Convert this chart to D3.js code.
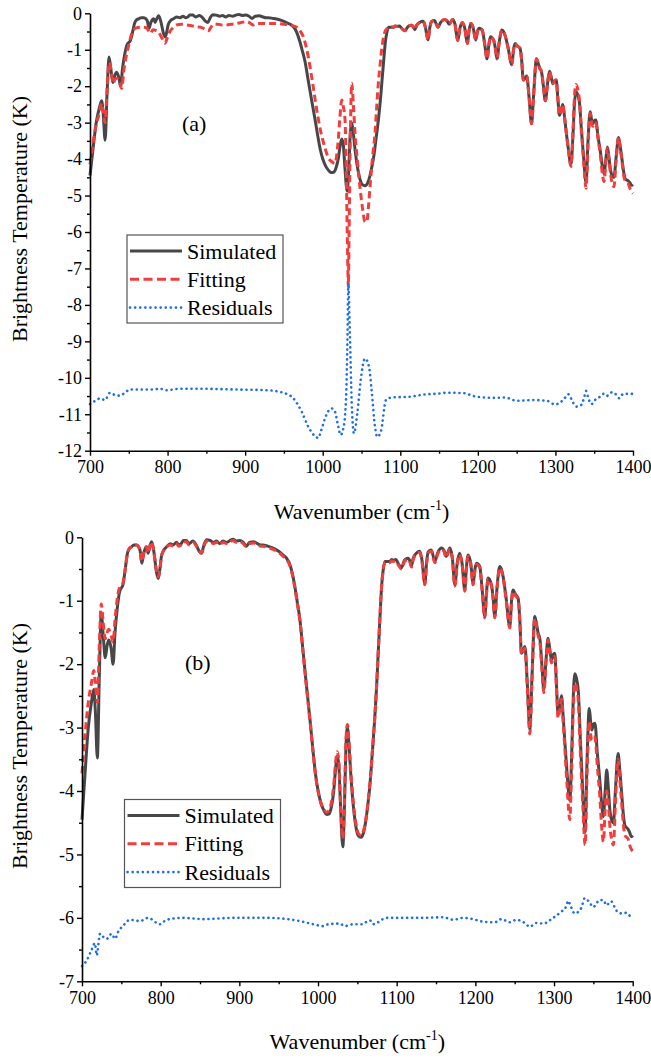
<!DOCTYPE html>
<html>
<head>
<meta charset="utf-8">
<script src="https://cdn.jsdelivr.net/npm/d3@7"></script>
<style>
  html, body { margin: 0; padding: 0; background: #fff; }
  svg { display: block; }
</style>
</head>
<body>
<div id="chart"></div>
<script>
// ---- data ----
const xTicks = [700, 800, 900, 1000, 1100, 1200, 1300, 1400]
const yTicksA = [0, -1, -2, -3, -4, -5, -6, -7, -8, -9, -10, -11, -12]
const yTicksB = [0, -1, -2, -3, -4, -5, -6, -7]
const legendLabels = ['Simulated', 'Fitting', 'Residuals']

// simulated spectrum (same in both panels)
const simulated = [
  [700,-4.45],[704,-3.7],[708,-3.0],[712,-2.6],[715,-2.4],[717,-2.75],[719.5,-3.48],[722,-2.2],
  [724.5,-1.2],[727,-1.55],[729.5,-1.9],[732,-1.7],[734,-1.62],[737,-1.75],[739.5,-2.0],[742,-1.5],
  [745,-1.1],[748,-0.85],[752,-0.75],[755,-0.5],[757.5,-0.27],[760,-0.18],[763,-0.15],[766,-0.12],
  [769.5,-0.12],[772,-0.15],[774,-0.22],[776,-0.41],[778.5,-0.25],[782,-0.15],[784,-0.25],[786,-0.15],
  [788.5,-0.07],[791,-0.2],[795,-0.57],[797,-0.65],[799,-0.5],[801,-0.3],[804,-0.2],[807.6,-0.15],
  [812,-0.1],[816,-0.12],[820,-0.08],[823,-0.12],[826,-0.1],[829,-0.05],[832.6,-0.05],[836,-0.1],
  [841,-0.06],[845,-0.12],[849,-0.22],[852,-0.25],[855,-0.12],[858.4,-0.04],[863,-0.05],[867,-0.08],
  [871,-0.06],[875,-0.1],[879,-0.06],[884,-0.08],[888,-0.05],[892,-0.03],[896,-0.06],[900.7,-0.05],
  [905,-0.08],[909,-0.14],[913,-0.08],[918,-0.07],[923,-0.1],[927,-0.12],[930,-0.12],[936,-0.14],
  [943,-0.17],[950,-0.22],[955.8,-0.28],[960,-0.33],[964,-0.42],[967,-0.55],[970.6,-0.78],[974,-1.05],
  [977,-1.3],[981,-1.8],[985.5,-2.36],[990,-2.9],[994,-3.41],[997,-3.75],[1000,-3.99],[1004,-4.2],
  [1008,-4.32],[1011,-4.37],[1014,-4.36],[1017,-4.25],[1020,-4.0],[1022,-3.7],[1024.5,-3.45],[1026.5,-3.6],
  [1028.5,-4.2],[1031.5,-4.88],[1033.5,-4.3],[1035.5,-3.3],[1037.4,-3.0],[1039.5,-3.3],[1042,-3.8],[1045,-4.25],
  [1048,-4.55],[1051,-4.7],[1054.5,-4.73],[1058,-4.65],[1061,-4.45],[1063.5,-4.2],[1066,-3.9],[1069,-3.4],
  [1072,-2.88],[1074.5,-2.35],[1076.5,-1.83],[1079,-1.2],[1080.8,-0.78],[1083,-0.5],[1085,-0.38],[1088,-0.38],
  [1091.3,-0.38],[1093.5,-0.35],[1095.5,-0.36],[1099,-0.35],[1101.8,-0.41],[1106,-0.48],[1110,-0.36],[1114.6,-0.33],
  [1117,-0.38],[1118.8,-0.45],[1121,-0.33],[1125,-0.25],[1129.4,-0.22],[1132,-0.35],[1135.8,-0.73],[1138,-0.4],
  [1140,-0.23],[1144,-0.2],[1148.5,-0.38],[1152,-0.25],[1157,-0.17],[1160,-0.2],[1163,-0.3],[1167.5,-0.17],
  [1170.5,-0.3],[1174,-0.75],[1177,-0.4],[1180,-0.25],[1183,-0.4],[1186.6,-0.83],[1188.5,-0.5],[1190.8,-0.28],
  [1194,-0.4],[1197.2,-0.73],[1199.5,-0.5],[1201.5,-0.41],[1205.6,-0.46],[1208.5,-0.8],[1212,-1.25],[1214,-0.9],
  [1216.2,-0.64],[1220.5,-0.75],[1222.5,-0.95],[1224.7,-1.25],[1227.5,-0.8],[1231,-0.46],[1233,-0.5],[1235.3,-0.62],
  [1239,-0.95],[1243.8,-1.41],[1246,-1.0],[1248,-0.83],[1251,-0.9],[1254.4,-0.96],[1256.5,-1.3],[1258.6,-1.83],
  [1261,-1.78],[1263,-1.72],[1266,-2.3],[1269.2,-3.03],[1272,-2.2],[1275.5,-1.25],[1277.5,-1.35],[1279.8,-1.51],
  [1282,-1.6],[1284.5,-2.0],[1287,-2.4],[1290,-1.9],[1292.4,-1.59],[1294.5,-1.75],[1296.7,-1.93],[1299,-1.85],
  [1301,-1.83],[1303,-2.3],[1305.2,-2.8],[1307.5,-2.65],[1309.5,-2.5],[1311.5,-2.8],[1313.6,-3.2],[1316.5,-3.7],
  [1320,-4.15],[1322.5,-3.4],[1324.5,-2.5],[1326.5,-2.15],[1329,-2.25],[1331,-2.45],[1333.5,-3.2],[1336.5,-4.0],
  [1339.5,-4.65],[1342,-3.5],[1344.8,-2.7],[1346.5,-2.9],[1348,-3.04],[1350,-2.95],[1352,-2.93],[1355,-3.4],
  [1358,-3.8],[1360.5,-4.2],[1362.7,-4.4],[1365,-4.0],[1367,-3.67],[1369,-3.95],[1371,-4.3],[1373,-4.45],
  [1375.5,-4.5],[1378,-4.0],[1381.4,-3.41],[1383.5,-3.65],[1385.7,-3.99],[1388,-4.35],[1390,-4.54],[1394,-4.6],
  [1396,-4.65],[1398.4,-4.72],[1400,-4.7]
]

// fitting, panel (a)
const fittingA = [
  [700,-4.15],[704,-3.55],[708,-3.05],[712,-2.75],[715,-2.47],[717,-2.7],[719.5,-3.0],[722,-2.1],
  [725,-1.35],[727.5,-1.6],[730,-1.92],[732.5,-1.8],[735,-1.78],[738,-1.9],[740.8,-2.06],[744,-1.5],
  [749.4,-0.92],[752.5,-0.65],[755.8,-0.46],[760,-0.4],[765,-0.38],[770,-0.38],[773,-0.4],[778,-0.55],
  [781,-0.45],[784,-0.46],[788,-0.5],[792,-0.65],[796.7,-0.82],[800,-0.65],[803,-0.5],[807,-0.4],
  [811.7,-0.32],[818,-0.3],[824.6,-0.32],[831,-0.34],[837.5,-0.37],[842,-0.38],[846,-0.41],[849,-0.45],
  [852.5,-0.48],[856,-0.38],[859,-0.3],[865,-0.3],[870,-0.32],[876,-0.32],[882,-0.3],[889,-0.28],
  [895,-0.25],[902,-0.23],[906,-0.26],[910.5,-0.32],[915,-0.28],[923.4,-0.28],[932,-0.28],[940.6,-0.28],
  [950,-0.3],[957.8,-0.32],[963,-0.35],[968.5,-0.41],[972,-0.52],[975,-0.64],[979,-0.95],[983.6,-1.46],
  [988,-2.05],[992.3,-2.65],[997,-3.2],[1003,-3.7],[1007,-3.95],[1011.6,-4.07],[1015.8,-4.12],[1018,-3.9],
  [1020,-3.48],[1022,-2.9],[1024.5,-2.38],[1026.5,-2.55],[1028.8,-2.93],[1030.5,-4.5],[1032,-6.5],[1033,-7.5],
  [1034,-6.0],[1035.5,-3.5],[1037.4,-1.92],[1039.5,-2.5],[1041.6,-3.29],[1045,-4.1],[1048,-4.76],[1051,-5.3],
  [1054.5,-5.72],[1057,-5.72],[1059,-5.3],[1061,-4.76],[1064,-4.0],[1067.4,-3.29],[1069.5,-2.6],[1071.7,-1.92],
  [1074,-1.4],[1076,-1.0],[1078,-0.7],[1080.3,-0.5],[1083,-0.42],[1086.7,-0.37],[1091.3,-0.38],
  [1093.5,-0.35],[1095.5,-0.36],[1099,-0.35],[1101.8,-0.41],[1106,-0.48],[1110,-0.36],[1114.6,-0.33],
  [1117,-0.38],[1118.8,-0.45],[1121,-0.33],[1125,-0.25],[1129.4,-0.22],[1132,-0.35],[1135.8,-0.73],[1138,-0.4],
  [1140,-0.23],[1144,-0.2],[1148.5,-0.38],[1152,-0.25],[1157,-0.17],[1160,-0.2],[1163,-0.3],[1167.5,-0.17],
  [1170.5,-0.3],[1174,-0.75],[1177,-0.4],[1180,-0.25],[1183,-0.4],[1186.6,-0.83],[1188.5,-0.5],[1190.8,-0.28],
  [1194,-0.4],[1197.2,-0.73],[1199.5,-0.5],[1201.5,-0.41],[1205.6,-0.46],[1208.5,-0.8],[1212,-1.25],[1214,-0.9],
  [1216.2,-0.64],[1220.5,-0.75],[1222.5,-0.95],[1224.7,-1.25],[1227.5,-0.8],[1231,-0.46],[1233,-0.5],[1235.3,-0.62],
  [1239,-0.95],[1243.8,-1.41],[1246,-1.0],[1248,-0.83],[1251,-0.9],[1254.4,-0.96],[1256.5,-1.3],[1258.6,-1.83],
  [1261,-1.78],[1263,-1.72],[1266,-2.3],[1269.2,-3.03],[1272,-2.2],[1275.5,-1.25],[1277.5,-1.35],[1279.8,-1.51],
  [1282,-1.6],[1284.5,-2.0],[1287,-2.4],[1290,-1.9],[1292.4,-1.59],[1294.5,-1.75],[1296.7,-1.93],[1299,-1.85],
  [1301,-1.83],[1303,-2.3],[1305.2,-2.8],[1307.5,-2.65],[1309.5,-2.5],[1311.5,-2.8],[1313.6,-3.2],[1316.5,-3.7],
  [1320,-4.2],[1322.5,-3.3],[1324.5,-2.3],[1326.5,-1.95],[1329,-2.1],[1331,-2.4],[1333.5,-3.2],[1336.5,-4.1],
  [1339.5,-4.8],[1342,-3.6],[1344.8,-2.75],[1346.5,-2.95],[1348,-3.1],[1350,-3.0],[1352,-3.0],[1355,-3.45],
  [1358,-3.9],[1360.5,-4.4],[1362.7,-4.62],[1365,-4.1],[1367,-3.7],[1369,-4.0],[1371,-4.4],[1373,-4.65],
  [1375.5,-4.76],[1378,-4.1],[1381.4,-3.4],[1383.5,-3.7],[1385.7,-4.05],[1388,-4.45],[1390,-4.6],[1394,-4.68],
  [1396,-4.8],[1398.4,-4.9],[1400,-4.94]
]

// fitting, panel (b)
const fittingB = [
  [700,-3.72],[704,-3.1],[708,-2.6],[712,-2.3],[715,-2.1],[717,-2.3],[719.5,-2.6],[722,-1.7],
  [724.5,-1.05],[727,-1.35],[729.5,-1.6],[732,-1.5],[734,-1.45],[737,-1.55],[739.5,-1.65],[742,-1.3],
  [745,-0.95],[748,-0.78],[752,-0.72],[755,-0.5],[757.5,-0.27],[760,-0.18],[763,-0.15],[766,-0.12],
  [769.5,-0.12],[772,-0.15],[774,-0.22],[776,-0.38],[778.5,-0.25],[782,-0.15],[784,-0.25],[786,-0.15],
  [788.5,-0.07],[791,-0.2],[795,-0.55],[797,-0.62],[799,-0.5],[801,-0.3],[804,-0.2],[807.6,-0.15],
  [812,-0.12],[816,-0.14],[820,-0.1],[823,-0.14],[826,-0.12],[829,-0.07],[832.6,-0.07],[836,-0.12],
  [841,-0.08],[845,-0.13],[849,-0.22],[852,-0.25],[855,-0.14],[858.4,-0.06],[863,-0.07],[867,-0.1],
  [871,-0.08],[875,-0.12],[879,-0.08],[884,-0.1],[888,-0.07],[892,-0.05],[896,-0.08],[900.7,-0.07],
  [905,-0.1],[909,-0.15],[913,-0.1],[918,-0.09],[923,-0.12],[927,-0.14],[930,-0.14],[936,-0.16],
  [943,-0.19],[950,-0.24],[955.8,-0.3],[960,-0.35],[964,-0.44],[967,-0.57],[970.6,-0.8],[974,-1.07],
  [977,-1.32],[981,-1.82],[985.5,-2.38],[990,-2.92],[994,-3.43],[997,-3.77],[1000,-4.0],[1004,-4.2],
  [1008,-4.3],[1011,-4.34],[1014,-4.3],[1017,-4.18],[1020,-3.9],[1022,-3.6],[1024.5,-3.38],[1026.5,-3.55],
  [1028.5,-4.15],[1031.5,-4.75],[1033.5,-4.2],[1035.5,-3.2],[1037.4,-2.95],[1039.5,-3.25],[1042,-3.75],[1045,-4.2],
  [1048,-4.5],[1051,-4.66],[1054.5,-4.7],[1058,-4.62],[1061,-4.42],[1063.5,-4.18],[1066,-3.88],[1069,-3.38],
  [1072,-2.86],[1074.5,-2.33],[1076.5,-1.81],[1079,-1.18],[1080.8,-0.78],[1083,-0.5],[1085,-0.4],[1088,-0.4],
  [1091.3,-0.4],[1093.5,-0.37],[1095.5,-0.38],[1099,-0.37],[1101.8,-0.43],[1106,-0.5],[1110,-0.38],[1114.6,-0.35],
  [1117,-0.4],[1118.8,-0.47],[1121,-0.35],[1125,-0.27],[1129.4,-0.24],[1132,-0.37],[1135.8,-0.75],[1138,-0.42],
  [1140,-0.25],[1144,-0.22],[1148.5,-0.4],[1152,-0.27],[1157,-0.19],[1160,-0.22],[1163,-0.32],[1167.5,-0.19],
  [1170.5,-0.32],[1174,-0.77],[1177,-0.42],[1180,-0.27],[1183,-0.42],[1186.6,-0.85],[1188.5,-0.52],[1190.8,-0.3],
  [1194,-0.42],[1197.2,-0.75],[1199.5,-0.52],[1201.5,-0.43],[1205.6,-0.48],[1208.5,-0.82],[1212,-1.27],[1214,-0.92],
  [1216.2,-0.66],[1220.5,-0.77],[1222.5,-0.97],[1224.7,-1.27],[1227.5,-0.82],[1231,-0.48],[1233,-0.52],[1235.3,-0.64],
  [1239,-0.97],[1243.8,-1.43],[1246,-1.02],[1248,-0.85],[1251,-0.92],[1254.4,-0.98],[1256.5,-1.32],[1258.6,-1.85],
  [1261,-1.8],[1263,-1.75],[1266,-2.35],[1269.2,-3.1],[1272,-2.25],[1275.5,-1.28],[1277.5,-1.38],[1279.8,-1.55],
  [1282,-1.65],[1284.5,-2.05],[1287,-2.45],[1290,-1.95],[1292.4,-1.62],[1294.5,-1.8],[1296.7,-1.98],[1299,-1.9],
  [1301,-1.88],[1303,-2.35],[1305.2,-2.85],[1307.5,-2.7],[1309.5,-2.55],[1311.5,-2.9],[1313.6,-3.3],[1316.5,-3.9],
  [1320,-4.45],[1322.5,-3.6],[1324.5,-2.65],[1326.5,-2.3],[1329,-2.4],[1331,-2.6],[1333.5,-3.4],[1336.5,-4.2],
  [1339.5,-4.85],[1342,-3.7],[1344.8,-2.9],[1346.5,-3.1],[1348,-3.2],[1350,-3.15],[1352,-3.15],[1355,-3.6],
  [1358,-4.05],[1360.5,-4.55],[1362.7,-4.8],[1365,-4.3],[1367,-4.0],[1369,-4.2],[1371,-4.55],[1373,-4.75],
  [1375.5,-4.85],[1378,-4.2],[1381.4,-3.5],[1383.5,-3.8],[1385.7,-4.15],[1388,-4.5],[1390,-4.7],[1394,-4.75],
  [1396,-4.85],[1398.4,-4.92],[1400,-4.95]
]

// residuals (offset curves), panel (a)
const residualsA = [
  [700,-10.72],[708.6,-10.61],[713,-10.56],[719.3,-10.61],[725.8,-10.41],[732,-10.47],[738.7,-10.49],[745,-10.41],
  [751.6,-10.32],[760,-10.32],[768.7,-10.32],[781.6,-10.32],[790,-10.3],[798.8,-10.34],[816,-10.3],[841.8,-10.3],
  [884.7,-10.32],[927.7,-10.34],[949,-10.41],[962,-10.56],[972.9,-10.93],[981.4,-11.34],[990,-11.6],[994.3,-11.65],
  [998,-11.45],[1003,-11.11],[1007,-10.92],[1011.6,-10.84],[1015.8,-10.93],[1020,-11.34],[1023,-11.57],[1026.5,-11.4],
  [1030,-10.61],[1032,-8.78],[1033,-7.41],[1035,-8.78],[1037.4,-10.7],[1040.3,-11.52],[1044.6,-10.97],[1049,-10.06],
  [1054.5,-9.47],[1059.7,-9.7],[1063,-10.33],[1067.4,-11.34],[1070.4,-11.62],[1075,-11.47],[1081.6,-10.61],[1089,-10.54],
  [1112.5,-10.52],[1129.7,-10.46],[1151,-10.43],[1159.8,-10.41],[1181,-10.42],[1198.5,-10.52],[1220,-10.55],[1235,-10.54],
  [1250,-10.63],[1271.5,-10.61],[1288.7,-10.63],[1299.4,-10.73],[1310,-10.61],[1316.6,-10.45],[1323,-10.69],[1327.4,-10.79],
  [1332.5,-10.76],[1336.8,-10.56],[1339.4,-10.36],[1342.4,-10.56],[1346.7,-10.72],[1351,-10.61],[1357.5,-10.52],[1361.8,-10.44],
  [1366,-10.5],[1372.5,-10.4],[1376.8,-10.43],[1382.3,-10.56],[1387.4,-10.44],[1398.4,-10.44],[1400,-10.45]
]

// residuals (offset curves), panel (b)
const residualsB = [
  [700,-6.76],[706,-6.67],[712,-6.51],[716.5,-6.4],[718.6,-6.59],[723,-6.25],[727,-6.3],[731.4,-6.33],
  [737.7,-6.25],[742,-6.33],[746,-6.22],[752.5,-6.12],[761,-6.03],[773.7,-6.05],[784,-6.0],[799,-6.1],
  [807.6,-6.03],[828.8,-6.0],[854,-6.02],[892,-6.0],[934.6,-6.0],[977,-6.05],[993.9,-6.1],[1006.6,-6.13],
  [1013,-6.1],[1027.8,-6.09],[1034,-6.13],[1044.7,-6.1],[1055.3,-6.1],[1066,-6.04],[1070,-6.1],[1087,-6.0],
  [1129.4,-6.0],[1159,-5.99],[1172,-6.03],[1184.4,-6.0],[1197.1,-6.02],[1209.8,-6.06],[1224.7,-6.07],[1233,-6.02],
  [1243.8,-6.07],[1252,-6.03],[1262.8,-6.08],[1269.2,-6.14],[1277.7,-6.08],[1286,-6.09],[1298.8,-6.0],[1307.3,-5.92],
  [1315.8,-5.81],[1318,-5.73],[1321,-5.81],[1326.3,-5.93],[1334.8,-5.84],[1339,-5.69],[1345.4,-5.76],[1349.6,-5.83],
  [1358,-5.72],[1363,-5.72],[1366.4,-5.8],[1372.7,-5.74],[1379,-5.88],[1385.6,-5.93],[1392,-5.92],[1398.4,-6.0],[1400,-6.02]
]

// ---- styling ----
const FONT = '"Liberation Serif","Times New Roman",serif'
const COLORS = { sim: '#474747', fit: '#F23D3D', res: '#1F6FE3' }
const W = 651
const H = 1059

const svg = d3.select('#chart').append('svg')
  .attr('width', W).attr('height', H)
  .attr('viewBox', `0 0 ${W} ${H}`)

function drawPanel(cfg) {
  const x = d3.scaleLinear().domain([700, 1400]).range([cfg.left, cfg.right])
  const y = d3.scaleLinear().domain([0, cfg.yMin]).range([cfg.top, cfg.bottom])
  const g = svg.append('g')

  // series
  const line = d3.line()
    .x(d => x(d[0])).y(d => y(d[1]))
    .curve(d3.curveMonotoneX)

  g.append('path').datum(cfg.sim)
    .attr('d', line).attr('fill', 'none')
    .attr('stroke', COLORS.sim).attr('stroke-width', 3)
    .attr('stroke-linejoin', 'round')

  g.append('path').datum(cfg.fit)
    .attr('d', line).attr('fill', 'none')
    .attr('stroke', COLORS.fit).attr('stroke-width', 3)
    .attr('stroke-dasharray', '7,4')

  g.append('path').datum(cfg.res)
    .attr('d', line).attr('fill', 'none')
    .attr('stroke', COLORS.res).attr('stroke-width', 2.6)
    .attr('stroke-linecap', 'round')
    .attr('stroke-dasharray', '0.1,4.9')

  // axes: major + minor ticks, outward
  const minorY = d3.range(0, cfg.yMin - 0.01, -0.5).filter(v => v % 1 !== 0)
  const minorX = d3.range(750, 1400, 100)

  const styleAxis = sel => {
    sel.select('.domain').attr('stroke', '#000').attr('stroke-width', 1.6)
    sel.selectAll('.tick line').attr('stroke', '#000').attr('stroke-width', 1.4)
    sel.selectAll('.tick text')
      .attr('fill', '#000').attr('font-size', '18px').attr('font-family', FONT)
  }

  g.append('g')
    .attr('transform', `translate(0,${cfg.bottom})`)
    .call(d3.axisBottom(x).tickValues(minorX).tickSize(3).tickFormat(''))
    .call(s => s.select('.domain').remove())
    .call(s => s.selectAll('.tick line').attr('stroke', '#000').attr('stroke-width', 1.4))

  g.append('g')
    .attr('transform', `translate(${cfg.left},0)`)
    .call(d3.axisLeft(y).tickValues(minorY).tickSize(3).tickFormat(''))
    .call(s => s.select('.domain').remove())
    .call(s => s.selectAll('.tick line').attr('stroke', '#000').attr('stroke-width', 1.4))

  g.append('g')
    .attr('transform', `translate(0,${cfg.bottom})`)
    .call(d3.axisBottom(x).tickValues(xTicks).tickSize(5).tickSizeOuter(0)
      .tickPadding(5).tickFormat(d => String(d)))
    .call(styleAxis)

  g.append('g')
    .attr('transform', `translate(${cfg.left},0)`)
    .call(d3.axisLeft(y).tickValues(cfg.yTicks).tickSize(5).tickSizeOuter(0)
      .tickPadding(3).tickFormat(d => String(d)))
    .call(styleAxis)

  // axis titles
  const xt = g.append('text')
    .attr('x', (cfg.left + cfg.right) / 2).attr('y', cfg.xTitleY)
    .attr('text-anchor', 'middle')
    .attr('font-family', FONT).attr('font-size', '22px').attr('fill', '#000')
  xt.append('tspan').text('Wavenumber (cm')
  xt.append('tspan').attr('font-size', '14px').attr('dy', -9).text('-1')
  xt.append('tspan').attr('dy', 9).text(')')

  g.append('text')
    .attr('transform', `translate(27,${cfg.yTitleY}) rotate(-90)`)
    .attr('text-anchor', 'middle')
    .attr('font-family', FONT).attr('font-size', '22px').attr('fill', '#000')
    .text('Brightness Temperature (K)')

  // panel label
  g.append('text')
    .attr('x', cfg.labelX).attr('y', cfg.labelY)
    .attr('font-family', FONT).attr('font-size', '22px').attr('fill', '#000')
    .text(cfg.label)

  // legend
  const lg = g.append('g').attr('transform', `translate(${cfg.legX},${cfg.legY})`)
  lg.append('rect')
    .attr('x', 0).attr('y', 0).attr('width', 156).attr('height', 88)
    .attr('fill', '#fff').attr('stroke', '#555').attr('stroke-width', 1.2)
  const legStyles = [
    { color: COLORS.sim, dash: null, w: 3, cap: 'butt' },
    { color: COLORS.fit, dash: '9,4.5', w: 3, cap: 'butt' },
    { color: COLORS.res, dash: '0.1,5', w: 2.6, cap: 'round' },
  ]
  legendLabels.forEach((lab, i) => {
    const yy = 16 + i * 28.3
    lg.append('line')
      .attr('x1', 3).attr('x2', 55).attr('y1', yy).attr('y2', yy)
      .attr('stroke', legStyles[i].color).attr('stroke-width', legStyles[i].w)
      .attr('stroke-linecap', legStyles[i].cap)
      .attr('stroke-dasharray', legStyles[i].dash)
    lg.append('text')
      .attr('x', 60).attr('y', yy + 7.5)
      .attr('font-family', FONT).attr('font-size', '22px').attr('fill', '#000')
      .text(lab)
  })
}

drawPanel({
  left: 90, right: 633, top: 13.3, bottom: 450.7, yMin: -12, yTicks: yTicksA,
  sim: simulated, fit: fittingA, res: residualsA,
  xTitleY: 519, yTitleY: 219, label: '(a)', labelX: 182, labelY: 131,
  legX: 127, legY: 235
})

drawPanel({
  left: 82, right: 632.7, top: 537.3, bottom: 981.3, yMin: -7, yTicks: yTicksB,
  sim: simulated, fit: fittingB, res: residualsB,
  xTitleY: 1049, yTitleY: 746, label: '(b)', labelX: 185, labelY: 670,
  legX: 124.5, legY: 799.5
})
</script>
</body>
</html>
